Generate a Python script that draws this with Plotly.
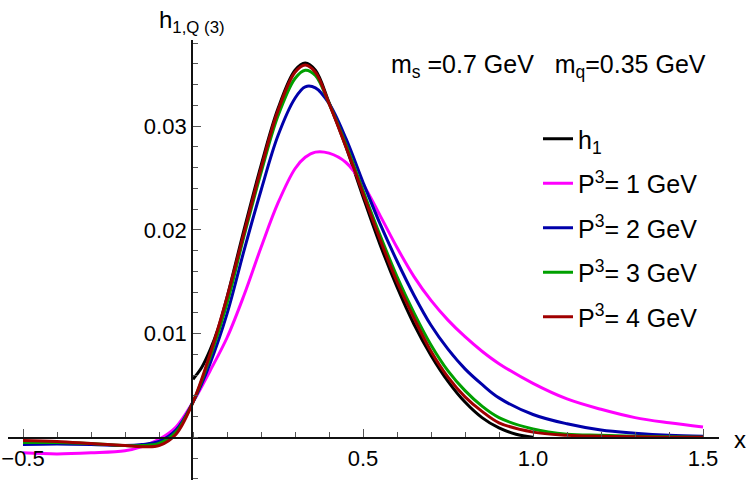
import plotly.graph_objects as go

# ---------------- data ----------------
x_p = [-0.5, -0.4, -0.3, -0.2, -0.15, -0.1, -0.05, 0.0, 0.05, 0.1, 0.15, 0.2, 0.25,
       0.3, 0.33, 0.36, 0.4, 0.45, 0.5, 0.55, 0.6, 0.65, 0.7, 0.75, 0.8, 0.85, 0.9,
       1.0, 1.1, 1.2, 1.3, 1.4, 1.5]

y_p1 = [-0.0015, -0.0016, -0.0015, -0.0013, -0.0009, -0.0002, 0.0010, 0.0034, 0.0064,
        0.0096, 0.0137, 0.0183, 0.0226, 0.0259, 0.0270, 0.0275, 0.0274, 0.0265, 0.0244,
        0.0214, 0.0183, 0.0155, 0.0132, 0.0113, 0.0097, 0.0083, 0.0071, 0.0052, 0.0037,
        0.0027, 0.0019, 0.0014, 0.0010]

y_p2 = [-0.0007, -0.00065, -0.0007, -0.0008, -0.0007, -0.0004, 0.0007, 0.0034, 0.0071,
        0.0119, 0.0180, 0.0238, 0.0291, 0.0327, 0.0338, 0.0337, 0.0322, 0.0288, 0.0246,
        0.0206, 0.0170, 0.0137, 0.0108, 0.0085, 0.0066, 0.0051, 0.0038, 0.0022, 0.0013,
        0.0007, 0.0004, 0.0002, 0.0001]

y_p3 = [-0.0005, -0.0005, -0.0006, -0.0008, -0.0008, -0.0006, 0.0005, 0.0034, 0.0077,
        0.0129, 0.0194, 0.0255, 0.0310, 0.0346, 0.0354, 0.0349, 0.0322, 0.0282, 0.0238,
        0.0195, 0.0155, 0.0120, 0.0089, 0.0064, 0.0045, 0.0030, 0.0019, 0.0008, 0.0003,
        0.0002, 0.0001, 0.00005, 0.0]

y_p4 = [-0.0003, -0.0004, -0.0006, -0.0008, -0.0009, -0.0008, 0.0003, 0.0034, 0.0080,
        0.0135, 0.0197, 0.0259, 0.0315, 0.0352, 0.0359, 0.0352, 0.0322, 0.0280, 0.0235,
        0.0191, 0.0150, 0.0115, 0.0083, 0.0058, 0.0039, 0.0025, 0.0014, 0.0005, 0.0002,
        0.0001, 0.00005, 0.0, 0.0]

x_h1 = [0.0, 0.025, 0.05, 0.075, 0.1, 0.15, 0.2, 0.25, 0.3, 0.33, 0.36, 0.4, 0.45, 0.5,
        0.55, 0.6, 0.65, 0.7, 0.75, 0.8, 0.85, 0.9, 0.95, 1.0]
y_h1 = [0.0056, 0.0067, 0.0084, 0.0106, 0.0135, 0.0200, 0.0262, 0.0317, 0.0354, 0.0361,
        0.0354, 0.0323, 0.0280, 0.0232, 0.0186, 0.0145, 0.0109, 0.0079, 0.0054, 0.0034,
        0.0019, 0.0009, 0.0003, 0.0]

series_names = ["h<sub>1</sub>", "P<sup>3</sup>= 1 GeV", "P<sup>3</sup>= 2 GeV",
                "P<sup>3</sup>= 3 GeV", "P<sup>3</sup>= 4 GeV"]
series_colors = ["#000000", "#FF00FF", "#0000AA", "#00A000", "#A00000"]

x_tickvals = [-0.5, 0.5, 1.0, 1.5]
x_ticktext = ["\u22120.5", "0.5", "1.0", "1.5"]
y_tickvals = [0.01, 0.02, 0.03]
y_ticktext = ["0.01", "0.02", "0.03"]

# ---------------- layout geometry ----------------
W, H = 750, 484
X0_PX, X_SCALE = 193.0, 340.0      # pixel of x=0, px per unit
Y0_PX, Y_SCALE = 437.3, 10370.0    # pixel of y=0, px per unit
XL, XR = 8.0, 719.0                # x axis line extent (px)
YT, YB = 40.0, 480.0               # y axis line extent (px)

x_range = [(XL - X0_PX) / X_SCALE, (XR - X0_PX) / X_SCALE]
y_range = [-(YB - Y0_PX) / Y_SCALE, (Y0_PX - YT) / Y_SCALE]
x_domain = [XL / W, XR / W]
y_domain = [(H - YB) / H, (H - YT) / H]

FONT = "Liberation Sans, Arial, sans-serif"

fig = go.Figure()
all_x = [x_h1, x_p, x_p, x_p, x_p]
all_y = [y_h1, y_p1, y_p2, y_p3, y_p4]
for i, (xs, ys) in enumerate(zip(all_x, all_y)):
    fig.add_trace(go.Scatter(
        x=xs, y=ys, mode="lines", name=series_names[i],
        legendgroup=f"g{i}",
        line=dict(color=series_colors[i], width=3, shape="spline", smoothing=1.0),
    ))

# empty helper trace so the invisible helper axes (used only to position the
# crossing axis lines at the origin) exist
fig.add_trace(go.Scatter(x=[], y=[], xaxis="x2", yaxis="y2", mode="lines",
                         showlegend=False, hoverinfo="skip"))

TICKC = "#555"
axis_common = dict(showgrid=False, zeroline=False, showline=True, linecolor="#111",
                   linewidth=1.8, ticks="inside", tickcolor=TICKC, tickwidth=1.3,
                   ticklen=8, tickfont=dict(family=FONT, size=22, color="#000"))

fig.update_layout(
    width=W, height=H,
    margin=dict(l=0, r=0, t=0, b=0, autoexpand=False),
    paper_bgcolor="white", plot_bgcolor="rgba(0,0,0,0)",
    font=dict(family=FONT, color="#000"),
    xaxis=dict(**axis_common, range=x_range, domain=x_domain, anchor="y2",
               side="bottom",
               tickmode="array", tickvals=x_tickvals, ticktext=x_ticktext,
               minor=dict(ticks="inside", dtick=0.1, tick0=0, ticklen=5,
                          tickcolor=TICKC, tickwidth=1.3)),
    yaxis=dict(**axis_common, range=y_range, domain=y_domain, anchor="x2",
               side="left",
               tickmode="array", tickvals=y_tickvals, ticktext=y_ticktext,
               minor=dict(ticks="inside", dtick=0.002, tick0=0, ticklen=5,
                          tickcolor=TICKC, tickwidth=1.3)),
    xaxis2=dict(domain=[X0_PX / W, 1.0], anchor="y2", visible=False, range=[0, 1],
                showgrid=False, zeroline=False),
    yaxis2=dict(domain=[(H - Y0_PX) / H, 1.0], anchor="x2", visible=False,
                range=[0, 1], showgrid=False, zeroline=False),
    showlegend=True,
    legend=dict(x=538 / W, y=1 - 116 / H, xanchor="left", yanchor="top",
                font=dict(family=FONT, size=25, color="#000"),
                bgcolor="rgba(0,0,0,0)", tracegroupgap=9,
                itemwidth=30),
    annotations=[
        dict(text="h<sub>1,Q (3)</sub>", xref="paper", yref="paper",
             x=192 / W, y=1 - 21 / H, showarrow=False, xanchor="center",
             yanchor="middle", font=dict(family=FONT, size=24)),
        dict(text="x", xref="paper", yref="paper", x=740 / W, y=1 - 439 / H,
             showarrow=False, xanchor="center", yanchor="middle",
             font=dict(family=FONT, size=24)),
        dict(text="m<sub>s</sub> =0.7 GeV&nbsp;&nbsp;&nbsp;m<sub>q</sub>=0.35 GeV",
             xref="paper", yref="paper", x=548 / W, y=1 - 66 / H,
             showarrow=False, xanchor="center", yanchor="middle",
             font=dict(family=FONT, size=25)),
    ],
)

fig.write_html("out.html")
